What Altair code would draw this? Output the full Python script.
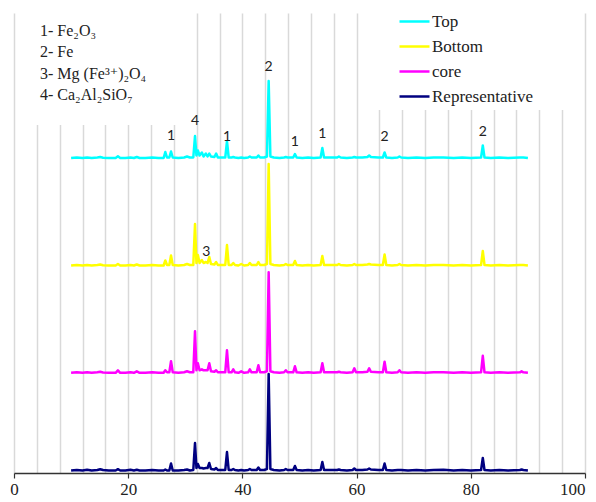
import altair as alt
import pandas as pd

# 2-theta positions (degrees), shared by all four patterns
two_theta = [10.0, 11.0, 12.0, 12.8, 13.6, 14.6, 15.1, 15.6, 16.6, 17.8, 18.2, 18.6,
             19.5, 20.4, 21.0, 21.5, 22.0, 23.0, 24.2, 25.3, 26.2, 26.5, 26.8, 27.2,
             27.5, 27.8, 28.8, 29.8, 30.3, 30.8, 31.4, 31.7, 31.95, 32.2, 32.5, 32.9,
             33.2, 33.6, 33.9, 34.2, 34.5, 35.1, 35.4, 35.7, 36.4, 37.0, 37.3, 37.6,
             38.1, 38.4, 38.7, 39.3, 39.8, 40.3, 41.0, 41.3, 41.6, 42.5, 42.8, 43.1,
             43.8, 44.3, 44.6, 44.9, 45.5, 46.5, 47.3, 47.6, 47.9, 48.9, 49.2, 49.5,
             50.5, 51.5, 52.5, 53.7, 54.0, 54.3, 55.5, 56.6, 56.9, 57.2, 58.3, 59.3,
             59.6, 59.9, 61.0, 61.9, 62.2, 62.5, 63.8, 64.6, 64.9, 65.2, 66.2, 67.2,
             67.5, 67.8, 69.0, 70.5, 72.0, 73.5, 75.2, 77.0, 78.5, 80.0, 81.8, 82.1,
             82.4, 83.5, 85.0, 86.5, 88.6, 88.9, 89.2, 90.0]

top = [0.5, 1, 0.5, 1, 0.5, 1, 1.5, 0.8, 0.5, 0.5, 2.2, 0.5,
       0.5, 1, 0.5, 1.5, 0.5, 0.5, 1, 0.5, 0.5, 6.5, 1, 1,
       7, 1, 0.5, 1, 2, 1, 1, 22.5, 3, 8, 3, 6,
       2, 5, 2, 5, 2, 1.5, 5, 1, 1, 1, 17, 1,
       1, 1.5, 1, 0.5, 1, 0.5, 1, 2, 1, 1, 3, 1,
       1, 2, 77.5, 2, 1, 0.5, 1, 1.5, 1, 1, 4.5, 1,
       0.5, 1, 0.5, 1, 10.5, 1, 1, 1, 2, 1, 0.5, 1,
       1.5, 1, 1, 1.5, 3, 1.5, 1, 1, 6, 1, 0.5, 1,
       2, 1, 0.5, 1, 0.5, 1, 1, 0.5, 1, 0.5, 1, 13,
       1, 0.5, 1, 0.5, 1, 1, 1, 0.5]

bottom = [0.5, 1, 0.5, 1, 0.5, 1, 1.5, 0.8, 0.5, 0.5, 2, 0.5,
          0.5, 1, 0.5, 1.5, 0.5, 0.5, 1, 0.5, 0.5, 5.5, 1, 1,
          10.5, 1, 0.5, 1, 2, 1, 1, 42, 3, 11, 3, 6,
          3, 4, 3, 9, 2, 1.5, 4, 1, 1, 1, 21, 1,
          1, 3, 1, 0.5, 2, 0.5, 1, 3, 1, 1, 4, 1,
          1, 2, 102, 2, 1, 0.5, 1, 2, 1, 1, 5, 1,
          0.5, 1, 0.5, 1, 10, 1, 1, 1, 2, 1, 0.5, 1,
          2, 1, 1, 1.5, 2, 1.5, 1, 1, 11.5, 1, 0.5, 1,
          2, 1, 0.5, 1, 0.5, 1, 1, 0.5, 1, 0.5, 1, 15,
          1, 0.5, 1, 0.5, 1, 1, 1, 0.5]

core = [0.5, 1, 0.5, 1, 0.5, 1, 1.5, 0.8, 0.5, 0.5, 3, 0.5,
        0.5, 1, 0.5, 2, 0.5, 0.5, 1, 0.5, 0.5, 3, 1, 1,
        12, 1, 0.5, 1, 2, 1, 1, 42, 3, 10, 3, 4,
        3, 3, 3, 10, 2, 1.5, 3, 1, 1, 1, 23, 1,
        1, 4, 1, 0.5, 2, 0.5, 1, 4, 1, 1, 8, 1,
        1, 2, 101, 2, 1, 0.5, 1, 3, 1, 1, 7, 1,
        0.5, 1, 0.5, 1, 10, 1, 1, 1, 1.5, 1, 0.5, 1,
        5, 1, 1, 1.5, 5, 1.5, 1, 1, 11.5, 1, 0.5, 1,
        3, 1, 0.5, 1, 0.5, 1, 1, 0.5, 1, 0.5, 1, 17.5,
        1, 0.5, 1, 0.5, 1, 2, 1, 0.5]

representative = [0.5, 1, 0.5, 1.2, 0.5, 1, 1.8, 1, 0.5, 0.5, 1.8, 0.5,
                  0.5, 1.2, 0.5, 1.2, 0.5, 0.5, 1, 0.5, 0.5, 1.5, 0.5, 0.5,
                  7.5, 0.5, 0.5, 1, 1.5, 0.5, 1, 28, 3, 7, 3, 3,
                  2.5, 3, 3, 8, 2, 1.5, 3, 1, 1, 1, 19, 1,
                  1, 2, 1, 0.5, 1, 0.5, 1, 2, 1, 1, 3.5, 1,
                  1, 2, 97, 2, 1, 0.5, 1, 2, 1, 1, 5, 1,
                  0.5, 1, 0.5, 1, 9, 1, 1, 1, 1.5, 1, 0.5, 1,
                  2.5, 1, 1, 1.5, 2.5, 1.5, 1, 1, 7.5, 1, 0.5, 1,
                  1, 1, 0.5, 1, 0.5, 1, 1.2, 0.5, 1, 0.5, 1, 13,
                  1, 0.5, 1, 0.5, 1, 1.5, 1, 0.5]

series_names = ["Top", "Bottom", "core", "Representative"]
series_offsets = [314.5, 207, 99.7, 2]
series_colors = ["#00ffff", "#ffff00", "#ff00ff", "#000080"]
series_values = [top, bottom, core, representative]

# peak identification labels
peak_pos = [27.5, 31.7, 37.3, 44.6, 49.2, 54.0, 64.9, 82.1, 33.7]
peak_text = ["1", "4", "1", "2", "1", "1", "2", "2", "3"]
peak_label_y = [337, 352, 336, 406, 331, 339, 336, 341, 221]

phase_legend = "1- Fe\u2082O\u2083\n2- Fe\n3- Mg (Fe\u00b3\u207a)\u2082O\u2084\n4- Ca\u2082Al\u2082SiO\u2087"

label_ticks = [0, 20, 40, 60, 80, 100]
grid_vals = [0, 4, 8, 12, 16, 20, 24, 28, 32, 36, 40, 44, 48, 52, 56, 60, 64, 68,
             72, 76, 80, 84, 88, 92, 96, 100]

rows = []
for name, off, vals in zip(series_names, series_offsets, series_values):
    for t, v in zip(two_theta, vals):
        rows.append({"theta": t, "I": off + v, "series": name})
df = pd.DataFrame(rows)

labels_df = pd.DataFrame({"theta": peak_pos, "I": peak_label_y, "txt": peak_text})

SERIF = "'Liberation Serif', 'Times New Roman', Tinos, 'DejaVu Serif', 'Noto Serif', serif"

xscale = alt.Scale(domain=[0, 100], nice=False, zero=False)
yscale = alt.Scale(domain=[0, 460], nice=False, zero=False)

blank = alt.Data(values=[{}])

box1 = alt.Chart(blank).mark_rect(color="white").encode(
    x=alt.value(6), x2=alt.value(171), y=alt.value(0), y2=alt.value(112))
box2 = alt.Chart(blank).mark_rect(color="white").encode(
    x=alt.value(354), x2=alt.value(558), y=alt.value(0), y2=alt.value(97))

lines = alt.Chart(df).mark_line(strokeWidth=2.5, strokeJoin="round").encode(
    x=alt.X("theta:Q", scale=xscale, axis=alt.Axis(
        values=label_ticks, title=None, grid=False,
        tickSize=5, tickColor="#333333", tickWidth=1.2,
        domainColor="#333333", domainWidth=1.3,
        labelFont=SERIF, labelFontSize=17, labelColor="#222222",
        labelAlign={"condition": {"test": "datum.value == 100", "value": "right"},
                    "value": "center"},
        labelPadding=3, labelFlush=False, labelOverlap=False, labelBound=False)),
    y=alt.Y("I:Q", scale=yscale, axis=None),
    color=alt.Color("series:N", scale=alt.Scale(domain=series_names, range=series_colors),
                    legend=alt.Legend(title=None, orient="none", legendX=384, legendY=-8,
                                      symbolType="stroke", symbolSize=900,
                                      symbolStrokeWidth=2.5, labelFont=SERIF,
                                      labelFontSize=17, labelColor="#222222",
                                      labelOffset=1, rowPadding=0, padding=0)),
    detail="series:N",
)

peak_labels = alt.Chart(labels_df).mark_text(
    font="Lato", fontSize=14, color="#222222", baseline="middle").encode(
    x=alt.X("theta:Q", scale=xscale, axis=alt.Axis(
        orient="top", values=grid_vals, title=None, grid=True, gridColor="#d9d9d9",
        gridWidth=1.5, labels=False, ticks=False, domain=False)),
    y=alt.Y("I:Q", scale=yscale, axis=None), text="txt:N")

phases = alt.Chart(blank).mark_text(
    font=SERIF, fontSize=16, color="#222222", align="left",
    baseline="alphabetic", lineBreak="\n", lineHeight=21.3).encode(
    x=alt.value(26), y=alt.value(23), text=alt.value(phase_legend))

chart = alt.layer(box1, box2, lines, peak_labels, phases).resolve_axis(
    x="independent").properties(
    width=571, height=460,
    autosize=alt.AutoSizeParams(type="none"),
    padding={"left": 6, "top": 5, "right": 3, "bottom": 24},
).configure_view(stroke=None)

chart.save("out.html", embed_options={"renderer": "svg", "actions": False})
